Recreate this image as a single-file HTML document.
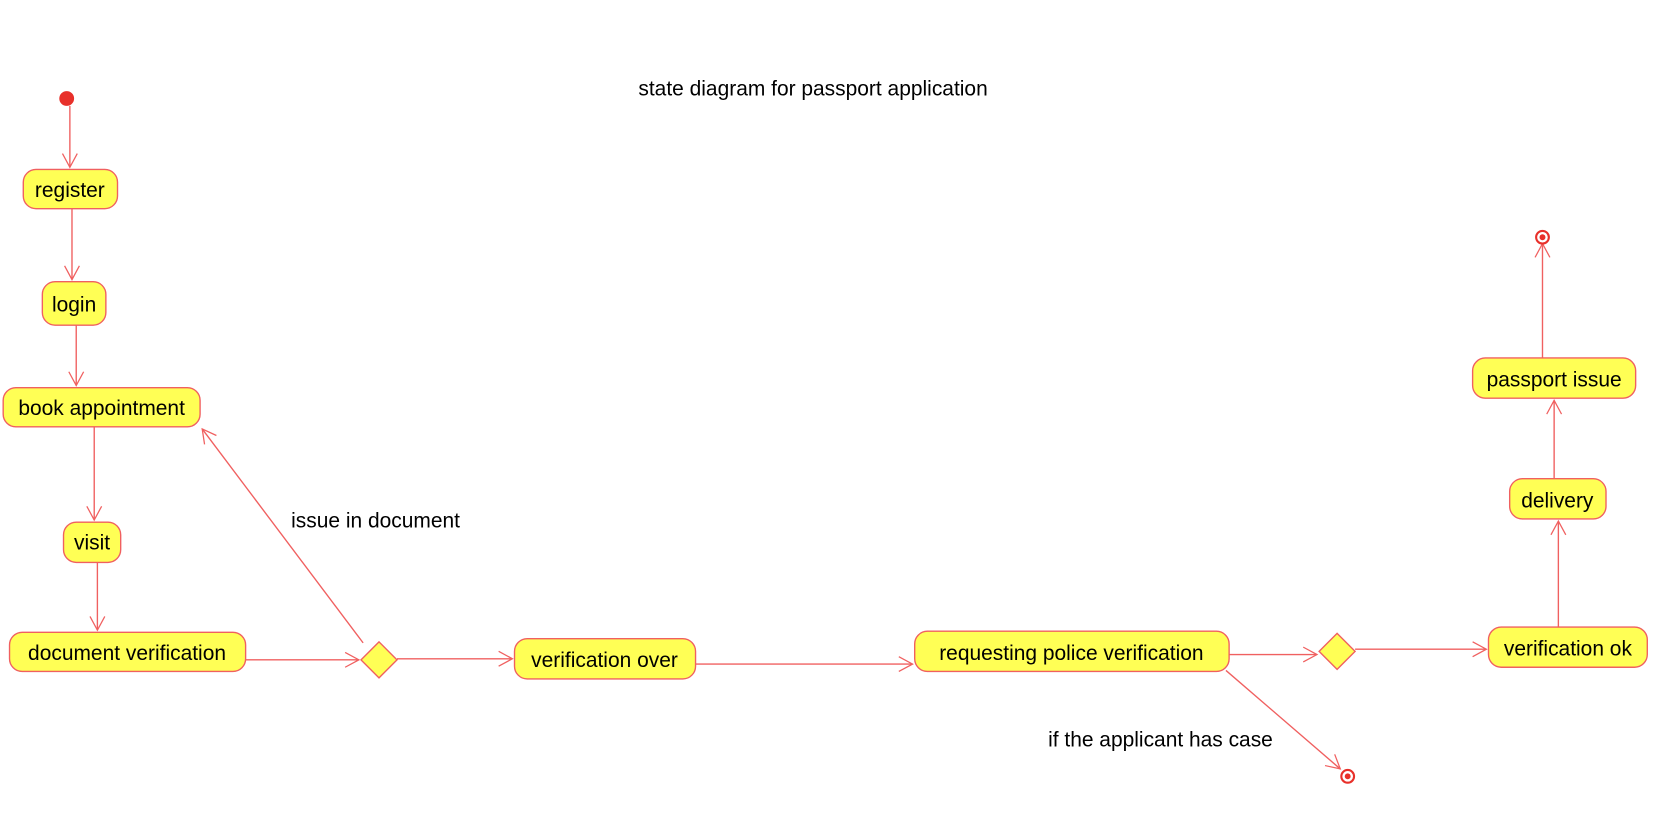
<!DOCTYPE html>
<html><head><meta charset="utf-8"><style>
html,body{margin:0;padding:0;background:#fff;}
svg{display:block;}
text{font-family:"Liberation Sans",sans-serif;font-size:19.8px;fill:#000;}
</style></head><body>
<svg width="1660" height="824" viewBox="0 0 1568 778" preserveAspectRatio="none" xmlns="http://www.w3.org/2000/svg">
<defs>
<marker id="a" markerWidth="16" markerHeight="16" refX="14" refY="8" orient="auto" markerUnits="userSpaceOnUse">
<path d="M1,1 L14,8 L1,15" fill="none" stroke="#f06060" stroke-width="1.2"/>
</marker>
</defs>
<g stroke="#f06060" stroke-width="1.3" fill="none">
<line x1="66" y1="100" x2="66" y2="158" marker-end="url(#a)"/>
<line x1="68" y1="197" x2="68" y2="264" marker-end="url(#a)"/>
<line x1="72" y1="307" x2="72" y2="364" marker-end="url(#a)"/>
<line x1="89" y1="403" x2="89" y2="491" marker-end="url(#a)"/>
<line x1="92" y1="531" x2="92" y2="595" marker-end="url(#a)"/>
<line x1="232" y1="623" x2="339" y2="623" marker-end="url(#a)"/>
<line x1="343" y1="607" x2="191" y2="405" marker-end="url(#a)"/>
<line x1="375" y1="622" x2="484" y2="622" marker-end="url(#a)"/>
<line x1="657" y1="627" x2="862" y2="627" marker-end="url(#a)"/>
<line x1="1161" y1="618" x2="1244" y2="618" marker-end="url(#a)"/>
<line x1="1280" y1="613" x2="1404" y2="613" marker-end="url(#a)"/>
<line x1="1158" y1="633" x2="1266" y2="726" marker-end="url(#a)"/>
<line x1="1472" y1="592" x2="1472" y2="492" marker-end="url(#a)"/>
<line x1="1468" y1="452" x2="1468" y2="378" marker-end="url(#a)"/>
<line x1="1457" y1="338" x2="1457" y2="230" marker-end="url(#a)"/>
</g>
<circle cx="63" cy="93" r="7" fill="#e8302a"/>
<circle cx="1457" cy="224" r="6" fill="#fff" stroke="#e8302a" stroke-width="2"/>
<circle cx="1457" cy="224" r="2.8" fill="#e8302a"/>
<circle cx="1273" cy="733" r="6" fill="#fff" stroke="#e8302a" stroke-width="2"/>
<circle cx="1273" cy="733" r="2.8" fill="#e8302a"/>
<g fill="#ffff55" stroke="#f06060" stroke-width="1.3">
<rect x="22" y="160" width="89" height="37" rx="12"/>
<rect x="40" y="266" width="60" height="41" rx="12"/>
<rect x="3" y="366" width="186" height="37" rx="12"/>
<rect x="60" y="493" width="54" height="38" rx="12"/>
<rect x="9" y="597" width="223" height="37" rx="12"/>
<rect x="486" y="603" width="171" height="38" rx="12"/>
<rect x="864" y="596" width="297" height="38" rx="12"/>
<rect x="1406" y="592" width="150" height="38" rx="12"/>
<rect x="1426" y="452" width="91" height="38" rx="12"/>
<rect x="1391" y="338" width="154" height="38" rx="12"/>
<polygon points="358,606 375,623 358,640 341,623"/>
<polygon points="1263,598 1280,615 1263,632 1246,615"/>
</g>
<g text-anchor="middle">
<text x="66" y="186">register</text>
<text x="70" y="294">login</text>
<text x="96" y="392">book appointment</text>
<text x="87" y="519">visit</text>
<text x="120" y="623">document verification</text>
<text x="571" y="630">verification over</text>
<text x="1012" y="623">requesting police verification</text>
<text x="1481" y="619">verification ok</text>
<text x="1471" y="479">delivery</text>
<text x="1468" y="365">passport issue</text>
</g>
<text x="603" y="90">state diagram for passport application</text>
<text x="275" y="498">issue in document</text>
<text x="990" y="705">if the applicant has case</text>
</svg>
</body></html>
